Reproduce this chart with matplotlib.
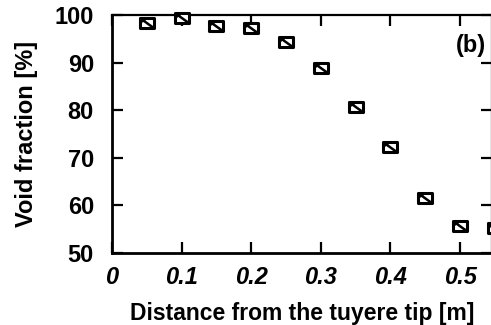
import numpy as np
import matplotlib.pyplot as plt
from matplotlib.path import Path

plt.rcParams['font.family'] = ['Liberation Sans', 'DejaVu Sans']
plt.rcParams['font.weight'] = 'bold'

# void fraction along the raceway, panel (b)
distance = [0.05, 0.10, 0.15, 0.20, 0.25, 0.30, 0.35, 0.40, 0.45, 0.50, 0.55]
void_fraction = [98.3, 99.4, 97.7, 97.3, 94.3, 88.8, 80.6, 72.2, 61.5, 55.6, 55.2]

xticks = [0, 0.1, 0.2, 0.3, 0.4, 0.5]
xtick_labels = ['0', '0.1', '0.2', '0.3', '0.4', '0.5']
yticks = [50, 60, 70, 80, 90, 100]

# rectangle with a diagonal stroke, small triangle shaded at top-left
box = Path([(-1, -0.72), (1, -0.72), (1, 0.72), (-1, 0.72), (-1, -0.72)],
           [Path.MOVETO, Path.LINETO, Path.LINETO, Path.LINETO, Path.CLOSEPOLY])
slash = Path([(-1, 0.72), (-0.25, 0.72), (-1, 0.15), (-1, 0.72),
              (-1, 0.72), (1, -0.72)],
             [Path.MOVETO, Path.LINETO, Path.LINETO, Path.CLOSEPOLY,
              Path.MOVETO, Path.LINETO])

fig = plt.figure(figsize=(4.91, 3.25), dpi=100)
ax = fig.add_axes([112 / 491, 1 - 253 / 325, 380 / 491, 238 / 325])

ax.plot(distance, void_fraction, linestyle='none', marker=box, markersize=10,
        markerfacecolor='white', markeredgecolor='black', markeredgewidth=2.2,
        clip_on=False, zorder=3)
ax.plot(distance, void_fraction, linestyle='none', marker=slash, markersize=10,
        markerfacecolor='black', markeredgecolor='black', markeredgewidth=1.8,
        clip_on=False, zorder=4)

ax.set_xlim(0, 0.546)
ax.set_ylim(50, 100)
ax.set_xticks(xticks)
ax.set_xticklabels(xtick_labels, fontstyle='italic', fontweight='bold')
ax.set_yticks(yticks)
ax.tick_params(direction='in', length=8, width=1.6, labelsize=17,
               top=True, right=True, pad=13)
ax.tick_params(axis='x', pad=9)
for lab in ax.get_yticklabels():
    lab.set_fontweight('bold')
for side in ['left', 'bottom']:
    ax.spines[side].set_linewidth(2.0)
for side in ['top', 'right']:
    ax.spines[side].set_linewidth(1.6)

ax.set_xlabel('Distance from the tuyere tip [m]', fontsize=16.5,
              fontweight='bold', labelpad=10)
ax.set_ylabel('Void fraction [%]', fontsize=17, fontweight='bold', labelpad=12)
ax.text(0.537, 93.5, '(b)', fontsize=17, fontweight='bold', ha='right', va='center')

fig.savefig('out.png', dpi=100)
